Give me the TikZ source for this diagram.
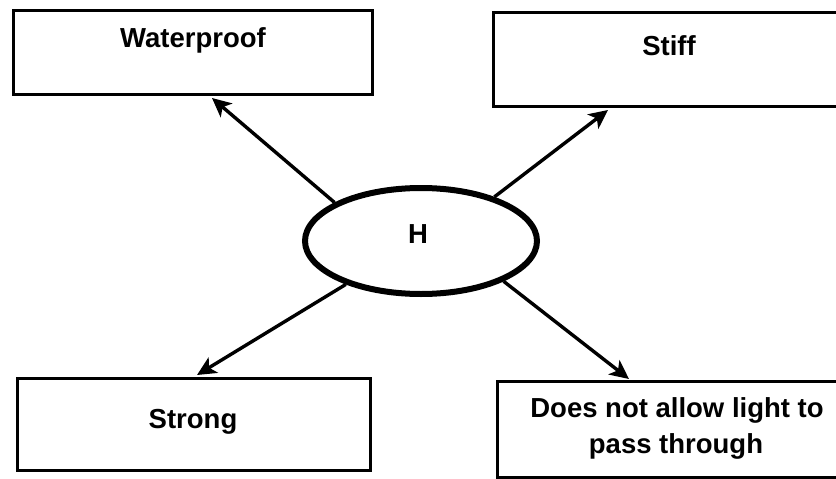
\documentclass[tikz,border=0pt]{standalone}
\usepackage{fontspec}
\setmainfont{Liberation Sans}
\usetikzlibrary{shapes.geometric,arrows.meta}
\begin{document}
\begin{tikzpicture}[x=1pt,y=-1pt,
  box/.style={draw, line width=3pt, inner sep=0pt},
  lbl/.style={font=\fontsize{27.5}{36}\selectfont\bfseries, anchor=base, inner sep=0pt},
  arr/.style={line width=3.4pt, -{Stealth[length=19pt,width=18pt,inset=5pt]}}]
\useasboundingbox (0,0) rectangle (836,479);
\clip (0,0) rectangle (836,479);
% boxes
\node[box, minimum width=359pt, minimum height=84pt] (wp) at (192.5,52) {};
\node[box, minimum width=377pt, minimum height=94pt] (st) at (681.5,59) {};
\node[box, minimum width=353pt, minimum height=92pt] (sg) at (193.5,424) {};
\node[box, minimum width=373pt, minimum height=96pt] (dn) at (683.5,429) {};
% texts
\node[lbl] (twp) at (193,47) {Waterproof};
\node[lbl] (tst) at (669,55) {Stiff};
\node[lbl] (tsg) at (193,428) {Strong};
\node[lbl] (tdn1) at (677,417) {Does not allow light to};
\node[lbl] (tdn2) at (676,453) {pass through};
% ellipse
\node[draw, ellipse, line width=6pt, minimum width=232pt, minimum height=106pt, inner sep=0pt] (H) at (421,241) {};
\node[lbl] (th) at (418,243) {H};
% arrow tips
\coordinate (p1) at (212,98);
\coordinate (p2) at (608,110);
\coordinate (p3) at (197,375);
\coordinate (p4) at (629,379);
\draw[arr] (H.156.9) -- (p1);
\draw[arr] (H.31.2) -- (p2);
\draw[arr] (H.210.7) -- (p3);
\draw[arr] (H.334.5) -- (p4);
\end{tikzpicture}
\end{document}
